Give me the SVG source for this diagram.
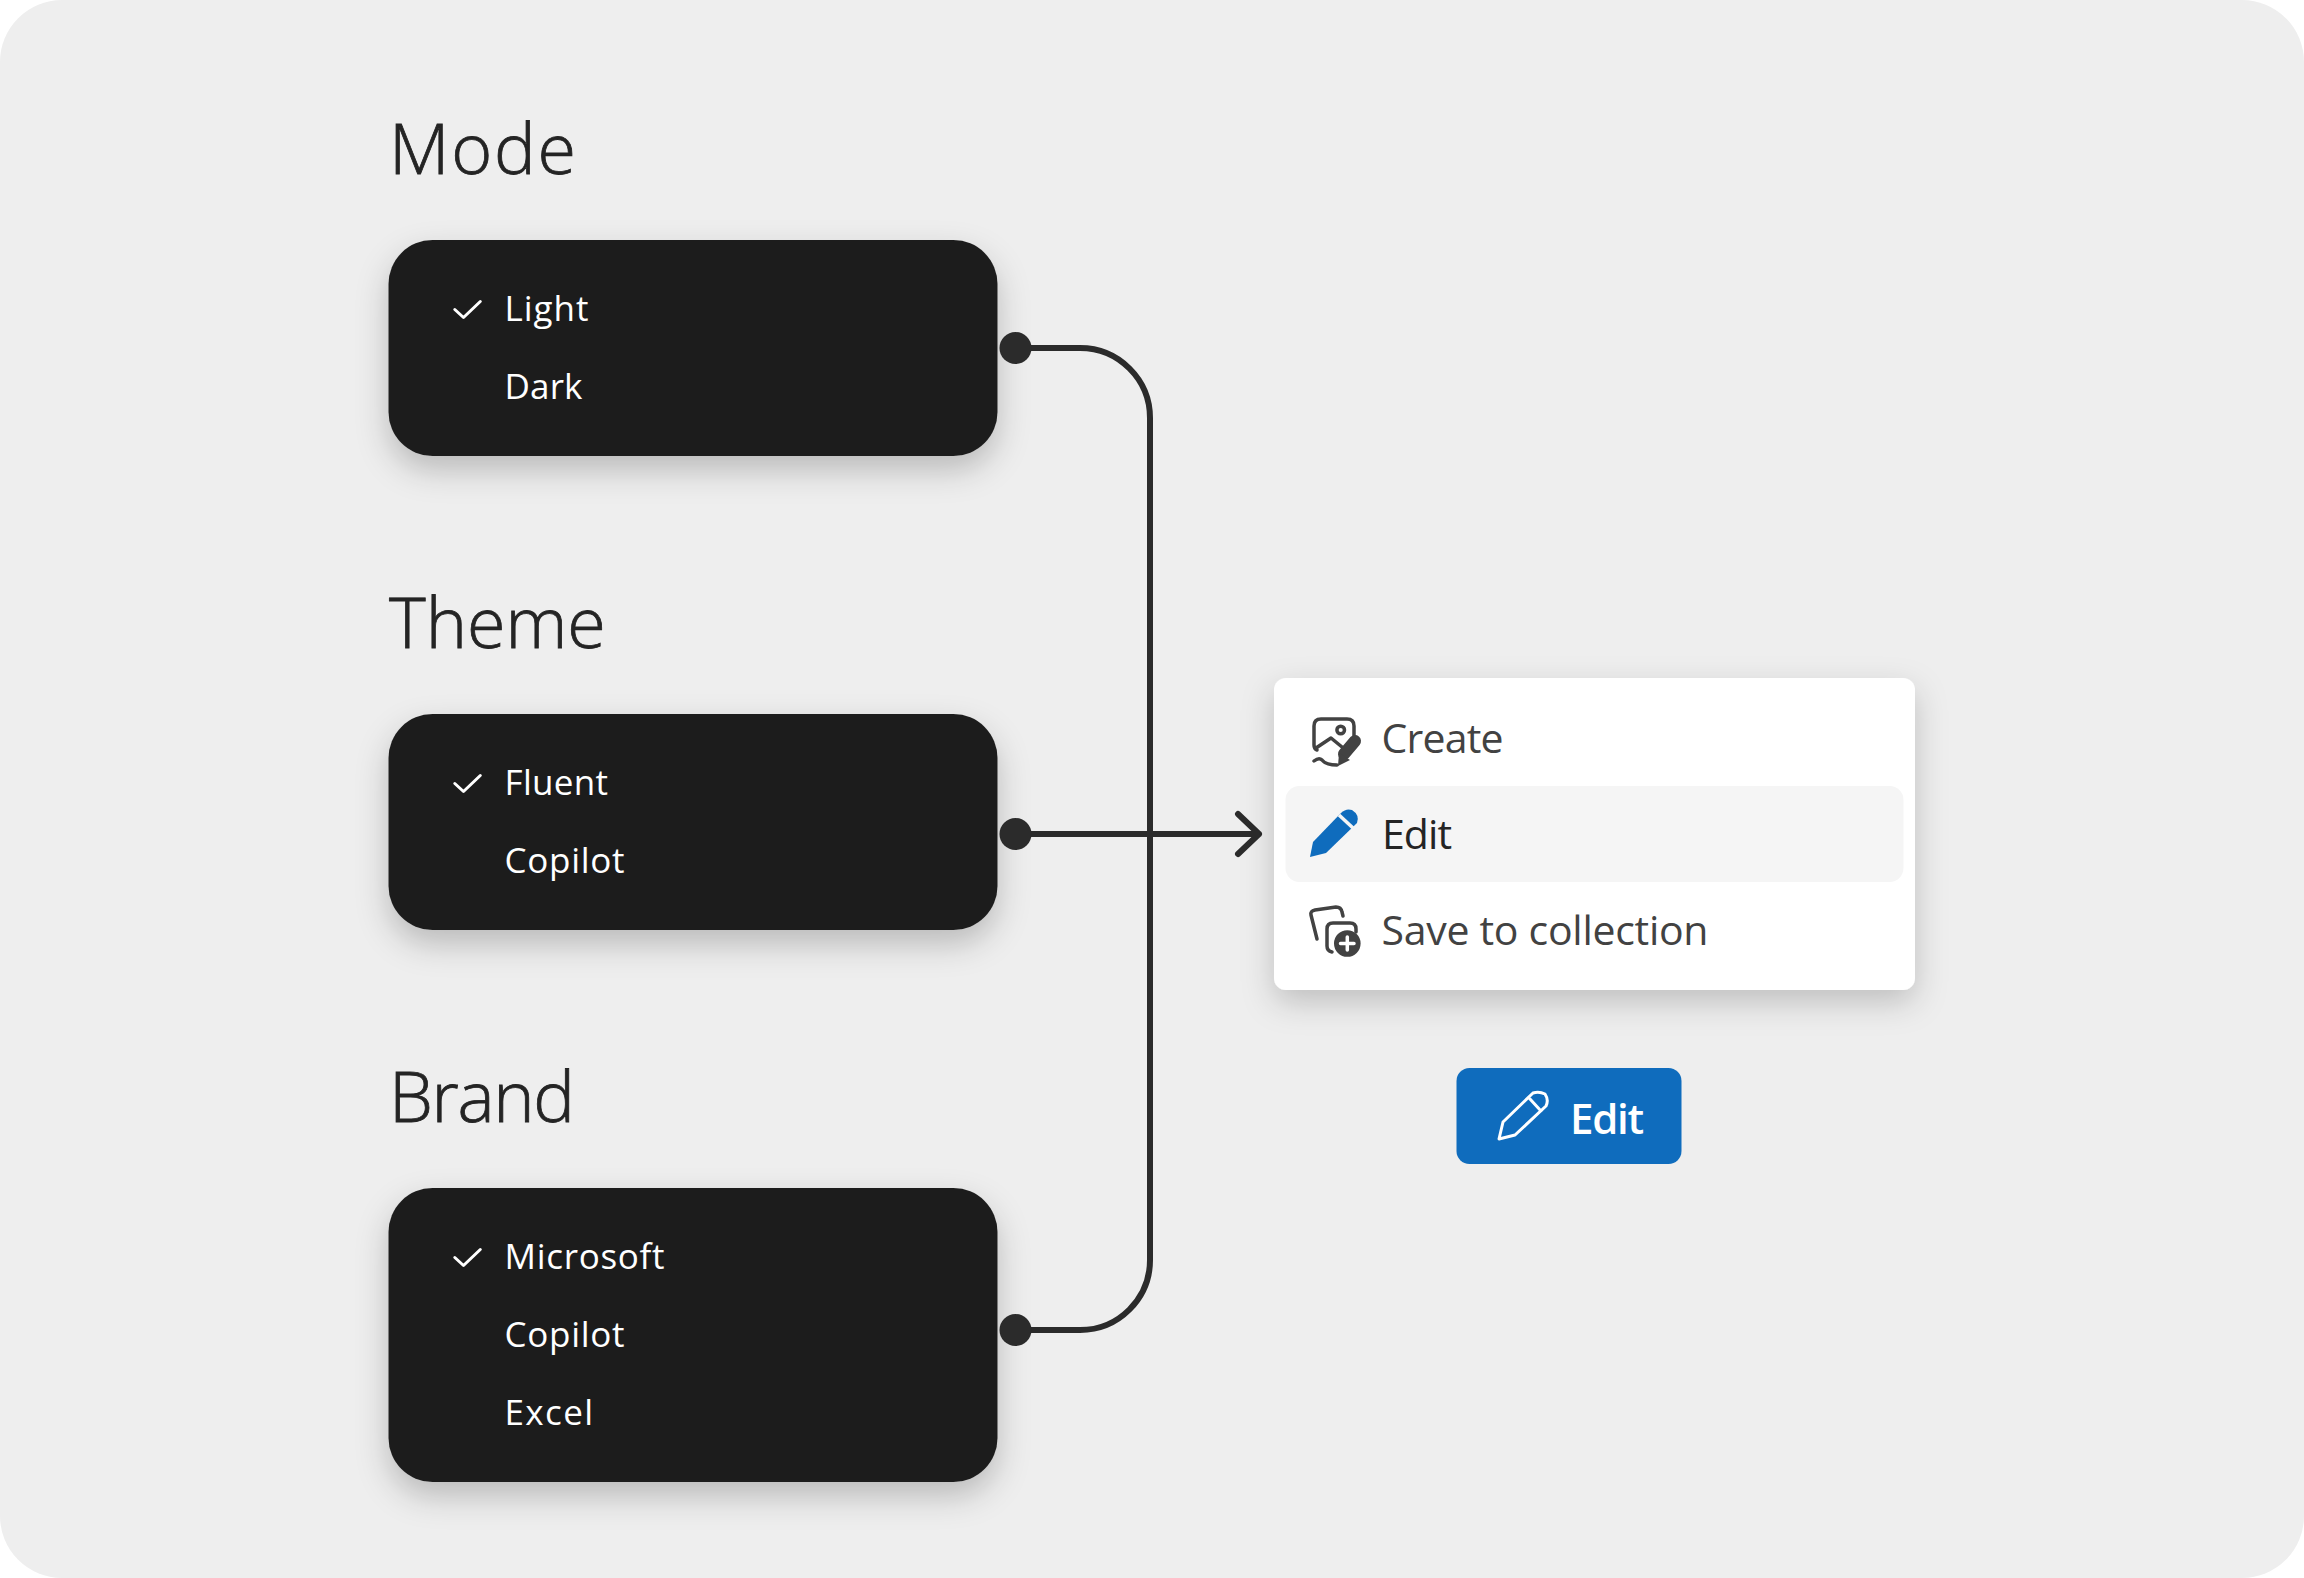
<svg xmlns="http://www.w3.org/2000/svg" width="2304" height="1578" viewBox="0 0 2304 1578">
<defs>
<style>
text{font-family:"Open Sans","Noto Sans","Liberation Sans",sans-serif}
.title{font-size:70px;font-weight:300;fill:#242424;stroke:#242424;stroke-width:.8px}
.item{font-size:35px;font-weight:400;fill:#fff}
.menu{font-size:41px;font-weight:400;fill:#424242}
.card{fill:#1f1f1f;filter:url(#cs)}
.chk{fill:none;stroke:#fff;stroke-width:3;stroke-linecap:round;stroke-linejoin:round}
.wire{fill:none;stroke:#2b2b2b;stroke-width:6;stroke-linecap:round;stroke-linejoin:round}
.dot{fill:#2b2b2b}
.ic{fill:none;stroke:#424242;stroke-width:3.5;stroke-linecap:round;stroke-linejoin:round}
</style>
<filter id="cs" x="-20%" y="-20%" width="140%" height="150%"><feDropShadow dx="0" dy="14" stdDeviation="16" flood-color="#000" flood-opacity=".22"/></filter>
<filter id="ms" x="-20%" y="-20%" width="140%" height="150%"><feDropShadow dx="0" dy="12" stdDeviation="16" flood-color="#000" flood-opacity=".2"/></filter>
</defs>
<rect width="2304" height="1578" fill="#fff"/>
<rect id="background" width="2304" height="1578" rx="62" fill="#eeeeee"/>
<g id="mode">
<text class="title" x="389" y="174" letter-spacing="1.800">Mode</text>
<rect class="card" x="388.500" y="240" width="609" height="216" rx="44"/>
<path class="chk" d="M454.800 309.500L463.500 317.500L480.300 301.500"/>
<text class="item" x="504.500" y="321" textLength="84">Light</text>
<text class="item" x="504.500" y="399" textLength="78">Dark</text>
</g>
<g id="theme">
<text class="title" x="389" y="648">Theme</text>
<rect class="card" x="388.500" y="714" width="609" height="216" rx="44"/>
<path class="chk" d="M454.800 783.500L463.500 791.500L480.300 775.500"/>
<text class="item" x="504.500" y="795" textLength="103.500">Fluent</text>
<text class="item" x="504.500" y="873" textLength="120">Copilot</text>
</g>
<g id="brand">
<text class="title" x="389" y="1122" letter-spacing="-1.300">Brand</text>
<rect class="card" x="388.500" y="1188" width="609" height="294" rx="44"/>
<path class="chk" d="M454.800 1257.500L463.500 1265.500L480.300 1249.500"/>
<text class="item" x="504.500" y="1269" textLength="160">Microsoft</text>
<text class="item" x="504.500" y="1347" textLength="120">Copilot</text>
<text class="item" x="504.500" y="1425" textLength="88.500">Excel</text>
</g>
<g id="connectors">
<path class="wire" d="M1015 348H1080A70 70 0 0 1 1150 418V1260A70 70 0 0 1 1080 1330H1015"/>
<path class="wire" d="M1015 834H1259M1238 814L1259 834L1238 854"/>
<circle class="dot" cx="1015.500" cy="348" r="16"/>
<circle class="dot" cx="1015.500" cy="834" r="16"/>
<circle class="dot" cx="1015.500" cy="1330" r="16"/>
</g>
<g id="menu">
<rect x="1274" y="678" width="641" height="312" rx="12" fill="#fff" filter="url(#ms)"/>
<rect x="1285.500" y="786" width="618" height="96" rx="14" fill="#f5f5f5"/>
<g id="menu-create">
<path class="ic" d="M1317 750Q1314 749 1314 745V726Q1314 719 1321 719H1347Q1354 719 1354 726V740M1316 748L1331 738L1342 747"/>
<circle class="ic" cx="1340.700" cy="730" r="3.800"/>
<path d="M1355 741L1344 754" stroke="#424242" stroke-width="12" stroke-linecap="round" fill="none"/>
<path d="M1338 766L1339 753L1350 760Z" fill="#424242"/>
<path class="ic" d="M1314 761Q1319 757 1322 760Q1326 765 1337 765"/>
<text class="menu" x="1381.500" y="753" textLength="122">Create</text>
</g>
<g id="menu-edit">
<path d="M1310 857L1313 842L1341 813Q1346 808 1352 810Q1360 815 1357 823L1326 853Z" fill="#0f6cbd"/>
<path d="M1339 815L1353 828" stroke="#f5f5f5" stroke-width="3.500" fill="none"/>
<text class="menu" x="1382" y="849" style="fill:#242424" textLength="70">Edit</text>
</g>
<g id="menu-save">
<path class="ic" d="M1317 939L1311 915Q1310 911 1315 910L1336 907Q1341 907 1342 912L1343 916M1332 952Q1327 951 1327 946V929Q1327 923 1333 923H1350Q1356 923 1356 929V932"/>
<circle cx="1347.300" cy="943.500" r="13.300" fill="#424242"/>
<path d="M1347.300 937V950M1340.500 943.500H1354" stroke="#fff" stroke-width="3.500" stroke-linecap="round"/>
<text class="menu" x="1381.500" y="945" textLength="327">Save to collection</text>
</g>
</g>
<g id="edit-button">
<rect x="1456.500" y="1068" width="225" height="96" rx="13" fill="#0f6cbd"/>
<path d="M1499 1139L1503 1122L1533 1093Q1539 1091 1545 1094Q1549 1100 1546 1106L1515 1135ZM1530 1099L1541 1111" fill="none" stroke="#fff" stroke-width="3" stroke-linejoin="round" stroke-linecap="round"/>
<text x="1570" y="1134" font-size="42" font-weight="600" fill="#fff" textLength="74">Edit</text>
</g>
</svg>
